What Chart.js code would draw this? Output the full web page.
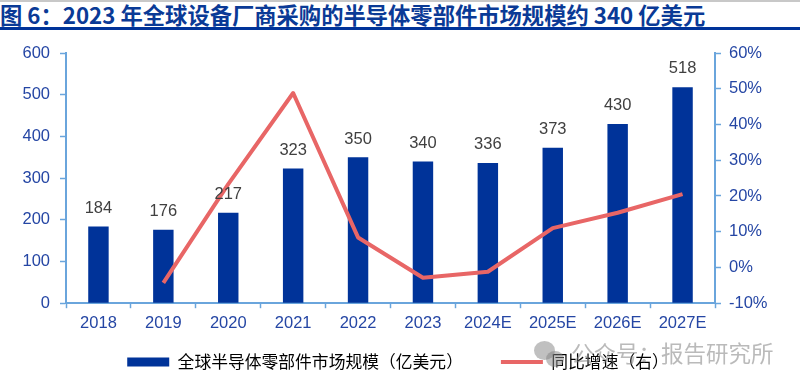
<!DOCTYPE html>
<html><head><meta charset="utf-8">
<script src="https://cdn.jsdelivr.net/npm/chart.js@4"></script>
<style>
html,body{margin:0;padding:0;background:#fff;width:800px;height:385px;overflow:hidden}
#stripe{position:absolute;left:0;top:0;width:800px;height:2px;background:#c8c8c8}
#title{position:absolute;left:0;top:1px;width:800px;height:26px;border-bottom:3px solid #003399;color:#0a3a96;font:bold 22.3px "Noto Sans CJK SC","Liberation Sans",sans-serif;line-height:26px;white-space:pre}
#wrap{position:absolute;left:0;top:0;width:800px;height:385px}
#mark{position:absolute;left:571px;top:338px;color:rgba(130,130,130,.55);font:22.5px "Noto Sans CJK SC",sans-serif;line-height:28px;white-space:pre}
.c{position:absolute;border-radius:50%;background:rgba(130,130,130,.5)}
</style></head><body>
<div id="stripe"></div>
<div id="title">图 6：2023 年全球设备厂商采购的半导体零部件市场规模约 340 亿美元</div>
<div id="wrap"><canvas id="c" width="800" height="385"></canvas></div>
<div class="c" style="left:534px;top:341px;width:21px;height:19px"></div>
<div class="c" style="left:546px;top:351px;width:18px;height:16px"></div>
<div id="mark">公众号：报告研究所</div>
<script>
const categories=["2018","2019","2020","2021","2022","2023","2024E","2025E","2026E","2027E"];
const marketSize=[184,176,217,323,350,340,336,373,430,518];
const growth=[null,-4.3,23.3,48.8,8.4,-2.9,-1.2,11.0,15.3,20.5];
const barName="全球半导体零部件市场规模（亿美元）";
const lineName="同比增速（右）";
const barColor="#003399",lineColor="#e86666",axisColor="#6aa5dc",tickText="#2546a4",valueText="#404040";
const tickFont={family:'"Liberation Sans",Arial,sans-serif',size:16.5};
const valueLabels={id:"valueLabels",afterDatasetsDraw(ch){
  const m=ch.getDatasetMeta(1),ctx=ch.ctx;ctx.save();
  ctx.font='16.5px "Liberation Sans",Arial,sans-serif';ctx.fillStyle=valueText;ctx.textAlign="center";ctx.textBaseline="bottom";
  m.data.forEach((b,i)=>ctx.fillText(String(marketSize[i]),b.x,b.y-10));ctx.restore();}};
const legendPlace={id:"legendPlace",
  beforeUpdate(ch){const l=ch.legend;if(l&&!l._wrapped){const f=l.fit;l.fit=function(){f.call(this);this.height=37;};l._wrapped=true;}},
  afterLayout(ch){const l=ch.legend;if(l){l.top=315.6;l.left-=2;l.right-=2;}}};
new Chart(document.getElementById("c"),{
 data:{labels:categories,datasets:[
  {type:"line",label:lineName,data:growth,yAxisID:"y2",borderColor:lineColor,backgroundColor:lineColor,borderWidth:4,pointRadius:0,tension:0,order:1,spanGaps:false,borderJoinStyle:"round"},
  {type:"bar",label:barName,data:marketSize,yAxisID:"y",backgroundColor:barColor,categoryPercentage:1,barPercentage:0.315,order:2}
 ]},
 options:{responsive:false,animation:false,
  layout:{padding:{top:53,left:0,right:0,bottom:10}},
  plugins:{tooltip:{enabled:false},
   legend:{position:"bottom",labels:{
     usePointStyle:true,pointStyleWidth:42,boxHeight:9,padding:38,color:"#2546a4",
     font:{family:'"Noto Sans CJK SC",sans-serif',size:16.8},
     generateLabels(){return [
       {text:barName,pointStyle:"rect",fillStyle:barColor,strokeStyle:barColor,lineWidth:0,datasetIndex:1},
       {text:lineName,pointStyle:"line",fillStyle:lineColor,strokeStyle:lineColor,lineWidth:4,datasetIndex:0}];}
   }}},
  scales:{
   x:{offset:true,grid:{drawOnChartArea:false,offset:true,tickLength:5,tickColor:axisColor,tickWidth:1.5},border:{color:axisColor,width:2},ticks:{color:tickText,font:tickFont,padding:5,maxRotation:0}},
   y:{position:"left",min:0,max:600,afterFit(s){s.width=66},grid:{drawOnChartArea:false,tickLength:6,tickColor:axisColor,tickWidth:1.5},border:{color:axisColor,width:2},ticks:{stepSize:100,color:tickText,font:tickFont,padding:10}},
   y2:{position:"right",min:-10,max:60,afterFit(s){s.width=85},grid:{drawOnChartArea:false,tickLength:6,tickColor:axisColor,tickWidth:1.5},border:{color:axisColor,width:2},ticks:{stepSize:10,color:tickText,font:tickFont,padding:8,callback:v=>v+"%"}}
  }},
 plugins:[valueLabels,legendPlace]
});
</script></body></html>
